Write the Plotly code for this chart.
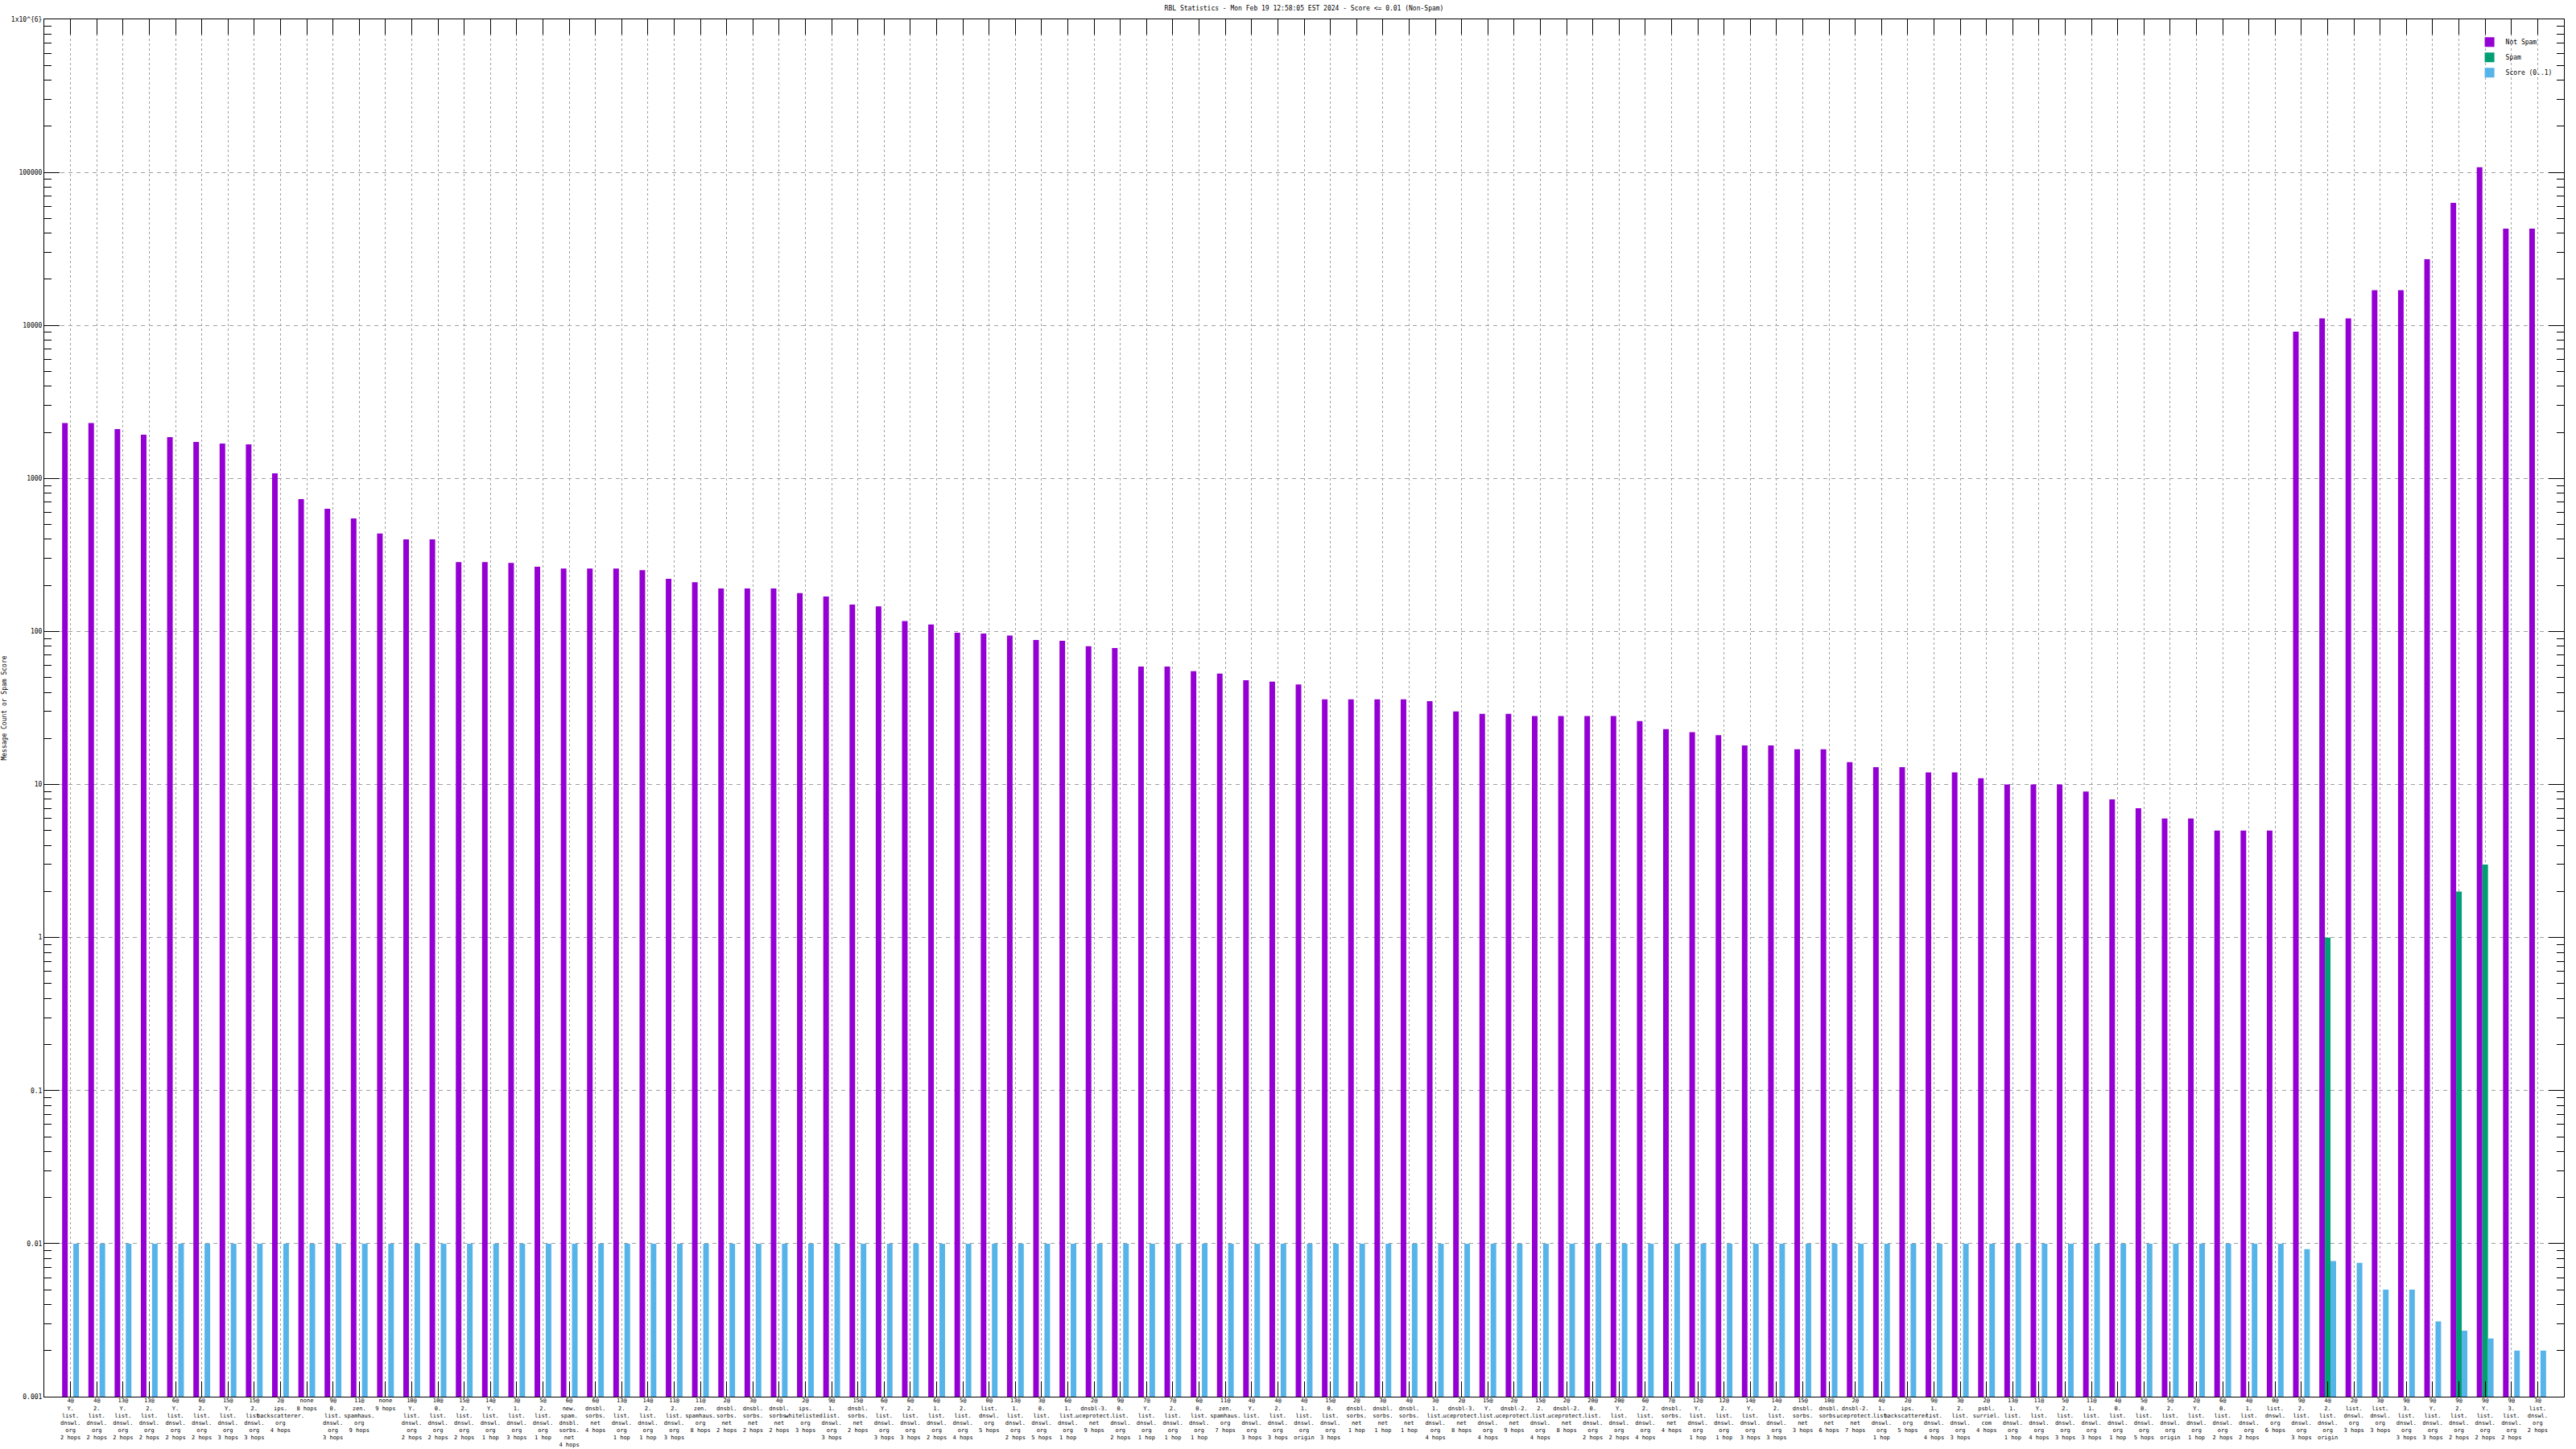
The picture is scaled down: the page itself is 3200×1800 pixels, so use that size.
import re
import plotly.graph_objects as go

# ---- data ----
categories = [
    "4@Y.list.dnswl.org 2 hops", "4@2.list.dnswl.org 2 hops", "13@Y.list.dnswl.org 2 hops",
    "13@2.list.dnswl.org 2 hops", "6@Y.list.dnswl.org 2 hops", "6@2.list.dnswl.org 2 hops",
    "15@Y.list.dnswl.org 3 hops", "15@2.list.dnswl.org 3 hops", "2@ips.backscatterer.org 4 hops",
    "none 8 hops", "9@0.list.dnswl.org 3 hops", "11@zen.spamhaus.org 9 hops", "none 9 hops",
    "10@Y.list.dnswl.org 2 hops", "10@0.list.dnswl.org 2 hops", "15@2.list.dnswl.org 2 hops",
    "14@Y.list.dnswl.org 1 hop", "3@1.list.dnswl.org 3 hops", "5@2.list.dnswl.org 1 hop",
    "6@new.spam.dnsbl.sorbs.net 4 hops", "6@dnsbl.sorbs.net 4 hops", "13@2.list.dnswl.org 1 hop",
    "14@2.list.dnswl.org 1 hop", "11@2.list.dnswl.org 3 hops", "11@zen.spamhaus.org 8 hops",
    "2@dnsbl.sorbs.net 2 hops", "3@dnsbl.sorbs.net 2 hops", "4@dnsbl.sorbs.net 2 hops",
    "2@ips.whitelisted.org 3 hops", "9@1.list.dnswl.org 3 hops", "15@dnsbl.sorbs.net 2 hops",
    "6@Y.list.dnswl.org 3 hops", "6@2.list.dnswl.org 3 hops", "6@1.list.dnswl.org 2 hops",
    "5@2.list.dnswl.org 4 hops", "0@list.dnswl.org 5 hops", "13@1.list.dnswl.org 2 hops",
    "3@0.list.dnswl.org 5 hops", "6@1.list.dnswl.org 1 hop", "2@dnsbl-3.uceprotect.net 9 hops",
    "9@0.list.dnswl.org 2 hops", "7@Y.list.dnswl.org 1 hop", "7@2.list.dnswl.org 1 hop",
    "6@0.list.dnswl.org 1 hop", "11@zen.spamhaus.org 7 hops", "4@Y.list.dnswl.org 3 hops",
    "4@2.list.dnswl.org 3 hops", "4@1.list.dnswl.org origin", "15@0.list.dnswl.org 3 hops",
    "2@dnsbl.sorbs.net 1 hop", "3@dnsbl.sorbs.net 1 hop", "4@dnsbl.sorbs.net 1 hop",
    "3@1.list.dnswl.org 4 hops", "2@dnsbl-3.uceprotect.net 8 hops", "15@Y.list.dnswl.org 4 hops",
    "2@dnsbl-2.uceprotect.net 9 hops", "15@2.list.dnswl.org 4 hops", "2@dnsbl-2.uceprotect.net 8 hops",
    "20@0.list.dnswl.org 2 hops", "20@Y.list.dnswl.org 2 hops", "6@2.list.dnswl.org 4 hops",
    "7@dnsbl.sorbs.net 4 hops", "12@Y.list.dnswl.org 1 hop", "12@2.list.dnswl.org 1 hop",
    "14@Y.list.dnswl.org 3 hops", "14@2.list.dnswl.org 3 hops", "15@dnsbl.sorbs.net 3 hops",
    "10@dnsbl.sorbs.net 6 hops", "2@dnsbl-2.uceprotect.net 7 hops", "4@1.list.dnswl.org 1 hop",
    "2@ips.backscatterer.org 5 hops", "9@1.list.dnswl.org 4 hops", "3@2.list.dnswl.org 3 hops",
    "2@psbl.surriel.com 4 hops", "13@1.list.dnswl.org 1 hop", "11@Y.list.dnswl.org 4 hops",
    "5@2.list.dnswl.org 3 hops", "11@1.list.dnswl.org 3 hops", "4@0.list.dnswl.org 1 hop",
    "5@0.list.dnswl.org 5 hops", "5@2.list.dnswl.org origin", "2@Y.list.dnswl.org 1 hop",
    "6@0.list.dnswl.org 2 hops", "4@1.list.dnswl.org 2 hops", "0@list.dnswl.org 6 hops",
    "9@2.list.dnswl.org 3 hops", "4@2.list.dnswl.org origin", "2@list.dnswl.org 3 hops",
    "3@list.dnswl.org 3 hops", "9@3.list.dnswl.org 3 hops", "9@Y.list.dnswl.org 3 hops",
    "9@2.list.dnswl.org 2 hops", "9@Y.list.dnswl.org 2 hops", "9@3.list.dnswl.org 2 hops",
    "3@list.dnswl.org 2 hops",
]

not_spam = [
    2300, 2300, 2100, 1930, 1860, 1730, 1690, 1670, 1080, 732,
    634, 548, 436, 400, 400, 284, 284, 281, 265, 258,
    258, 258, 252, 221, 210, 191, 191, 191, 178, 169,
    150, 146, 117, 111, 98, 97, 94, 88, 87, 80,
    78, 59, 59, 55, 53, 48, 47, 45, 36, 36,
    36, 36, 35, 30, 29, 29, 28, 28, 28, 28,
    26, 23, 22, 21, 18, 18, 17, 17, 14, 13,
    13, 12, 12, 11, 10, 10, 10, 9, 8, 7,
    6, 6, 5, 5, 5, 9100, 11100, 11100, 17000, 17000,
    27100, 63200, 108000, 42900, 42900,
]

spam = [0] * 86 + [1, 0, 0, 0, 0, 2, 3, 0, 0]

score = [0.01] * 85 + [0.0092, 0.0077, 0.0075, 0.005, 0.005, 0.0031, 0.0027, 0.0024, 0.002, 0.002]

y_tick_vals = [1e-3, 1e-2, 1e-1, 1, 10, 100, 1000, 10000, 100000, 1000000]
y_tick_text = ["0.001", "0.01", "0.1", "1", "10", "100", "1000", "10000", "100000", "1x10^{6}"]

title_text = "RBL Statistics - Mon Feb 19 12:58:05 EST 2024 - Score &lt;= 0.01 (Non-Spam)"


def wrap(label):
    m = re.match(r"^(.*?) ((?:\d+ hops?)|origin)$", label)
    name, hops = m.groups()
    parts = re.findall(r"[^@.]+[@.]?", name)
    return "<br>".join(parts + [hops])


x = list(range(len(categories)))
tick_text = [wrap(c) for c in categories]

minor_vals = []
for e in range(-3, 6):
    for d in range(2, 10):
        minor_vals.append(d * 10 ** e)

FONT = "DejaVu Sans Mono"

fig = go.Figure()
fig.add_trace(go.Bar(x=x, y=[v if v > 0 else None for v in not_spam], name="Not Spam",
                     marker=dict(color="#9400D3", line=dict(width=0))))
fig.add_trace(go.Bar(x=x, y=[v if v > 0 else None for v in spam], name="Spam",
                     marker=dict(color="#009E73", line=dict(width=0))))
fig.add_trace(go.Bar(x=x, y=[v if v > 0 else None for v in score], name="Score (0..1)",
                     marker=dict(color="#56B4E9", line=dict(width=0))))

fig.update_layout(
    width=3200, height=1800,
    margin=dict(l=55, r=15, t=24, b=65),
    plot_bgcolor="white", paper_bgcolor="white",
    barmode="group", bargap=0.36, bargroupgap=0,
    font=dict(family=FONT, size=8, color="black"),
    title=dict(text=title_text, x=0.5, xref="paper", xanchor="center",
               y=1 - 10 / 1800, yref="container", yanchor="middle",
               font=dict(family=FONT, size=8, color="black")),
    showlegend=True,
    legend=dict(x=0.997, xanchor="right", y=0.992, yanchor="top",
                bgcolor="rgba(0,0,0,0)", font=dict(family=FONT, size=8),
                itemwidth=30, traceorder="normal"),
)

fig.update_xaxes(
    range=[-1, len(categories)], automargin=False,
    tickmode="array", tickvals=x, ticktext=tick_text, tickangle=0,
    ticks="inside", ticklen=19, tickcolor="black", tickwidth=1,
    ticklabelstandoff=-2,
    showline=True, linecolor="black", linewidth=1, mirror="ticks",
    showgrid=True, gridcolor="#a0a0a0", griddash="3px,3px", gridwidth=1,
    zeroline=False, tickfont=dict(family=FONT, size=7),
)

fig.update_yaxes(
    type="log", range=[-3, 6], automargin=False,
    tickmode="array", tickvals=y_tick_vals, ticktext=y_tick_text,
    ticks="inside", ticklen=19, tickcolor="black", tickwidth=1,
    minor=dict(tickmode="array", tickvals=minor_vals, ticks="inside", ticklen=9,
               tickcolor="black", showgrid=False),
    showline=True, linecolor="black", linewidth=1, mirror="ticks",
    showgrid=True, gridcolor="#a0a0a0", griddash="5px,5px", gridwidth=1,
    zeroline=False, tickfont=dict(family=FONT, size=8),
    title=dict(text="Message Count or Spam Score", font=dict(family=FONT, size=8), standoff=4),
)

fig.write_html("out.html", config={"displayModeBar": False},
               post_script="document.body.style.margin='0';document.body.style.padding='0';")
